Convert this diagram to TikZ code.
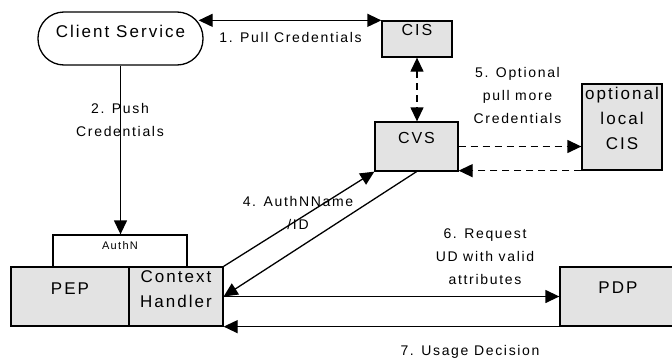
\documentclass[tikz,border=0pt]{standalone}
\usepackage{fontspec}
\setmainfont{Liberation Sans}[LetterSpace=12]
\usetikzlibrary{arrows.meta,calc}
\definecolor{boxgray}{RGB}{227,227,227}
\begin{document}
\begin{tikzpicture}[x=1pt,y=-1pt, line width=1.3pt,
  box/.style={draw, fill=boxgray, inner sep=0pt},
  wbox/.style={draw, fill=white, inner sep=0pt},
  lbl/.style={font=\fontsize{14}{23}\selectfont, align=center, inner sep=0pt},
  txt/.style={font=\fontsize{17}{25}\selectfont, align=center, inner sep=0pt},
  arr/.style={-{Triangle[length=14pt,width=13pt]}},
  darr/.style={{Triangle[length=14pt,width=13pt]}-{Triangle[length=14pt,width=13pt]}},
  dsh/.style={dash pattern=on 7pt off 5pt}]
\useasboundingbox (0,0) rectangle (672,359);
\clip (0,0) rectangle (672,359);
% boxes
\node[wbox, rounded corners=26pt, minimum width=165pt, minimum height=53pt] (cs) at (120.5,38.5) {};
\node[box, minimum width=70pt, minimum height=36pt] (cis) at (417,39) {};
\node[box, minimum width=83pt, minimum height=49pt] (cvs) at (416.5,146.5) {};
\node[box, minimum width=80pt, minimum height=86pt] (lcis) at (622,127) {};
\node[wbox, minimum width=134pt, minimum height=32pt] (authn) at (120,251) {};
\node[box, minimum width=118pt, minimum height=59pt] (pep) at (70,296.5) {};
\node[box, minimum width=94pt, minimum height=59pt] (ch) at (176,296.5) {};
\node[box, minimum width=116pt, minimum height=59pt] (pdp) at (618,296.5) {};
% box texts
\node[txt] (cs-t) at ([yshift=7pt]cs.center) {Client Service};
\node[txt, font=\fontsize{16}{25}\selectfont] (cis-t) at ([yshift=9pt]cis.center) {CIS};
\node[txt, font=\fontsize{16}{25}\selectfont] (cvs-t) at ([yshift=9pt]cvs.center) {CVS};
\node[txt] (lcis-t) at ([yshift=8.5pt]lcis.center) {optional\\local\\CIS};
\node[txt, font=\fontsize{11}{13}\selectfont] (authn-t) at ([yshift=5pt]authn.center) {AuthN};
\node[txt] (pep-t) at ([yshift=7.5pt]pep.center) {PEP};
\node[txt] (ch-t) at ([yshift=7pt]ch.center) {Context\\Handler};
\node[txt] (pdp-t) at ([yshift=8.5pt]pdp.center) {PDP};
% connectors
\draw[darr] (cis.north west) -- ([xshift=-5pt]cs.east |- cis.north west);
\draw[arr] (cs.south) -- (cs.south |- authn.north);
\draw[darr, dsh] (cis.south) -- (cis.south |- cvs.north);
\draw[arr, dsh] (cvs.east) -- (cvs.east -| lcis.west);
\draw[arr, dsh] (lcis.south west) -- (lcis.south west -| cvs.east);
\draw[arr] (ch.north east) -- (cvs.south west);
\draw[arr] (cvs.south) -- (ch.east);
\draw[arr] (ch.east) -- (ch.east -| pdp.west);
\draw[arr] (pdp.south west) -- (pdp.south west -| ch.east);
% labels
\node[lbl] (l1) at (290.5,37.5) {1. Pull Credentials};
\node[lbl] (l2) at (120,119.5) {2. Push\\Credentials};
\node[lbl] (l4) at (298,212.5) {4. AuthNName\\/ID};
\node[lbl] (l5) at (517.5,95) {5. Optional\\pull more\\Credentials};
\node[lbl] (l6) at (485,257) {6. Request\\UD with valid\\attributes};
\node[lbl] (l7) at (470,352) {7. Usage Decision};
\end{tikzpicture}
\end{document}
